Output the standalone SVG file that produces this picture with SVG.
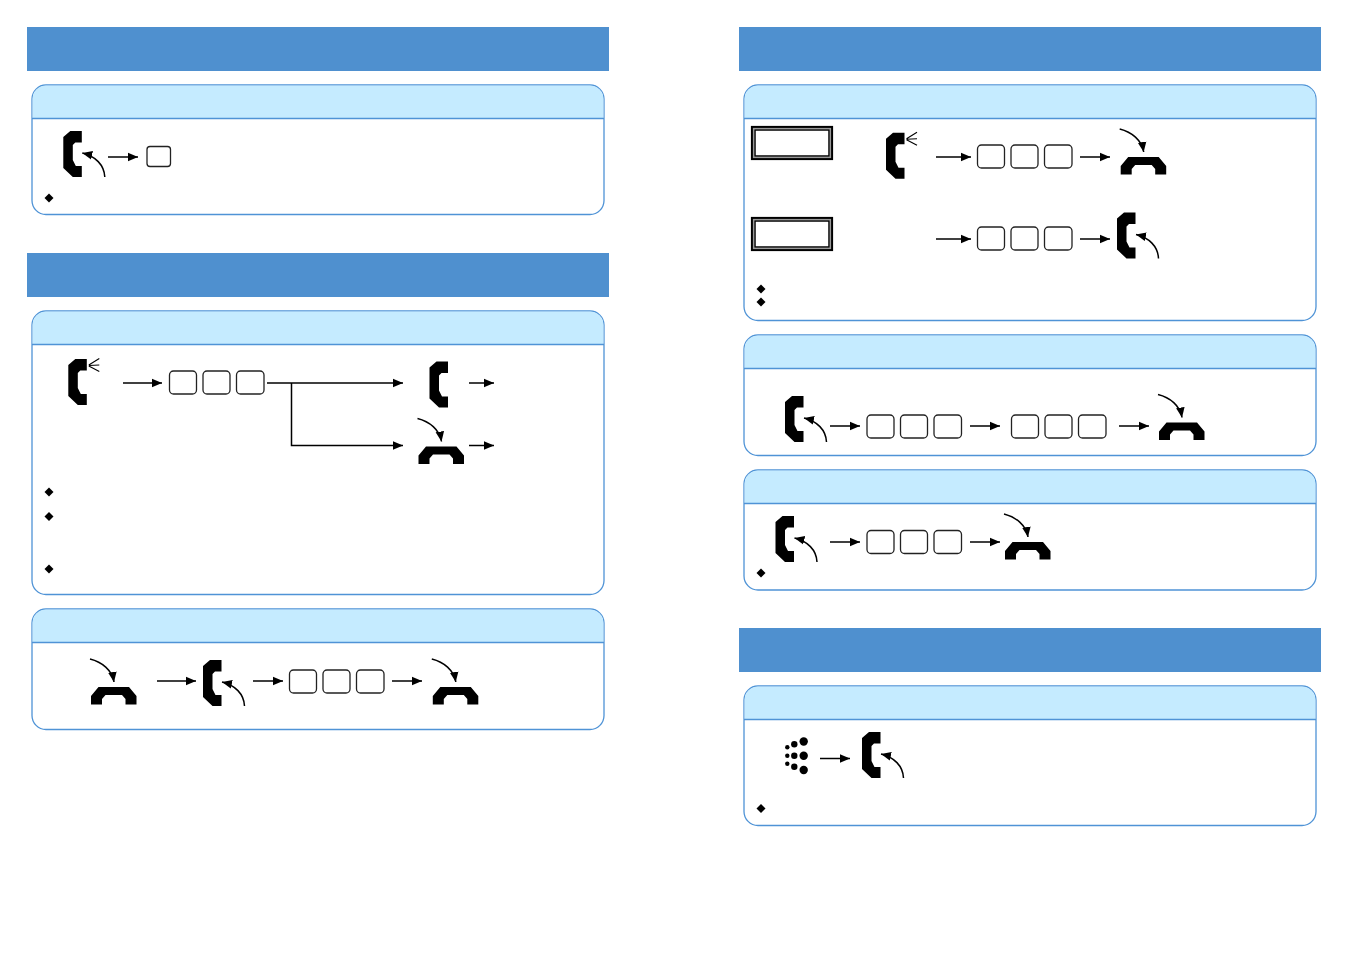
<svg xmlns="http://www.w3.org/2000/svg" width="1351" height="954" viewBox="0 0 1351 954">
<style>
.bar{fill:#4f90cf}
.panel{fill:#fff;stroke:#4f93d6;stroke-width:1.3}
.head{fill:#c5ebff}
.div{stroke:#4f93d6;stroke-width:1.3;fill:none}
.key{fill:#fff;stroke:#222;stroke-width:1.3}
.c{fill:none;stroke:#000;stroke-width:1.5;marker-end:url(#ah)}
.ring{stroke:#000;stroke-width:1.1;fill:none}
.fo{fill:#fff;stroke:#000;stroke-width:2.2}
.fm{fill:none;stroke:#999;stroke-width:1.2}
.fi{fill:none;stroke:#000;stroke-width:1.5}
</style>
<defs>
<marker id="ah" markerUnits="userSpaceOnUse" markerWidth="11" markerHeight="11" refX="10" refY="5" orient="auto"><path d="M0,.7L10,5L0,9.300Z" fill="#000"/></marker>
<path id="hs" d="M7,0H18.500V11.500H12L9.500,14V29L12.500,35H18.500V46H9.500L0,37V6Z" fill="#000"/>
<path id="hu" d="M7.500,0H38L45.500,9V17.500H34.500V12L31,8H14.500L11,12V17.500H0V9Z" fill="#000"/>
<g id="lift"><use href="#hs"/><path class="c" d="M41.500,46C41,34 32,25 19,22"/></g>
<g id="hang"><use href="#hu"/><path class="c" d="M-1,-28C11,-25 21,-17 23,-5"/></g>
<g id="ringing"><use href="#hs"/><path class="ring" d="M20.500,6L31,-.5M20.500,6.500L31,6M20.500,7L31,12.500"/></g>
<g id="k3"><rect class="key" x=".5" y=".5" width="27" height="23" rx="4"/><rect class="key" x="34" y=".5" width="27" height="23" rx="4"/><rect class="key" x="67.500" y=".5" width="27.500" height="23" rx="4"/></g>
<g id="frame"><rect class="fo" x="752" y="0" width="80" height="32"/><rect class="fm" x="753.500" y="1.500" width="77" height="29"/><rect class="fi" x="755" y="3" width="74" height="26"/></g>
<path id="dm" d="M0,-4.500L4.500,0L0,4.500L-4.500,0Z" fill="#000"/>
</defs>
<rect width="1351" height="954" fill="#fff"/>
<g id="bar-1"><rect class="bar" x="27" y="27" width="582" height="44"/></g>
<g id="bar-2"><rect class="bar" x="27" y="253" width="582" height="44"/></g>
<g id="bar-3"><rect class="bar" x="739" y="27" width="582" height="44"/></g>
<g id="bar-4"><rect class="bar" x="739" y="628" width="582" height="44"/></g>

<g id="panel-1"><rect class="panel" x="32" y="85" width="572" height="129.500" rx="14"/><path class="head" d="M46,85.600H590A13.400,13.400 0 0 1 603.400,99V118.500H32.600V99A13.400,13.400 0 0 1 46,85.600Z"/><path class="div" d="M32,118.500H604"/></g>
<g id="panel-2"><rect class="panel" x="32" y="311" width="572" height="283.500" rx="14"/><path class="head" d="M46,311.600H590A13.400,13.400 0 0 1 603.400,325V344.500H32.600V325A13.400,13.400 0 0 1 46,311.600Z"/><path class="div" d="M32,344.500H604"/></g>
<g id="panel-3"><rect class="panel" x="32" y="609" width="572" height="120.500" rx="14"/><path class="head" d="M46,609.600H590A13.400,13.400 0 0 1 603.400,623V642.500H32.600V623A13.400,13.400 0 0 1 46,609.600Z"/><path class="div" d="M32,642.500H604"/></g>
<g id="panel-4"><rect class="panel" x="744" y="85" width="572" height="235.500" rx="14"/><path class="head" d="M758,85.600H1302A13.400,13.400 0 0 1 1315.400,99V118.500H744.600V99A13.400,13.400 0 0 1 758,85.600Z"/><path class="div" d="M744,118.500H1316"/></g>
<g id="panel-5"><rect class="panel" x="744" y="335" width="572" height="120.500" rx="14"/><path class="head" d="M758,335.600H1302A13.400,13.400 0 0 1 1315.400,349V368.500H744.600V349A13.400,13.400 0 0 1 758,335.600Z"/><path class="div" d="M744,368.500H1316"/></g>
<g id="panel-6"><rect class="panel" x="744" y="470" width="572" height="120" rx="14"/><path class="head" d="M758,470.600H1302A13.400,13.400 0 0 1 1315.400,484V503.500H744.600V484A13.400,13.400 0 0 1 758,470.600Z"/><path class="div" d="M744,503.500H1316"/></g>
<g id="panel-7"><rect class="panel" x="744" y="686" width="572" height="139.500" rx="14"/><path class="head" d="M758,686.600H1302A13.400,13.400 0 0 1 1315.400,700V719.500H744.600V700A13.400,13.400 0 0 1 758,686.600Z"/><path class="div" d="M744,719.500H1316"/></g>

<g id="connectors">
<path class="c" d="M108,157H138"/>
<path class="c" d="M123,383H162"/>
<path class="c" d="M267,383H403"/>
<path class="c" d="M291.500,383V445.500H403"/>
<path class="c" d="M469,383H494"/>
<path class="c" d="M469,445.500H494"/>
<path class="c" d="M157,681H196"/>
<path class="c" d="M253,681H283"/>
<path class="c" d="M392,681H422"/>
<path class="c" d="M936,157H971"/>
<path class="c" d="M1080,157H1110"/>
<path class="c" d="M936,239H971"/>
<path class="c" d="M1080,239H1110"/>
<path class="c" d="M830,426H860"/>
<path class="c" d="M970,426H1000"/>
<path class="c" d="M1119,426H1149"/>
<path class="c" d="M830,542H860"/>
<path class="c" d="M970,542H1000"/>
<path class="c" d="M820,758.500H850"/>
</g>

<g id="p1-lift"><use href="#lift" x="63.300" y="131"/></g>
<g id="p1-key"><rect class="key" x="147" y="146.500" width="23.500" height="20" rx="3"/></g>
<g id="p1-b1"><use href="#dm" x="49" y="198"/></g>

<g id="p2-ring"><use href="#ringing" x="68.300" y="359"/></g>
<g id="p2-keys"><use href="#k3" x="169" y="370.500"/></g>
<g id="p2-handset"><use href="#hs" x="429.500" y="361.500"/></g>
<g id="p2-hang"><use href="#hang" x="418.500" y="446.500"/></g>
<g id="p2-b1"><use href="#dm" x="49" y="492"/></g>
<g id="p2-b2"><use href="#dm" x="49" y="516.500"/></g>
<g id="p2-b3"><use href="#dm" x="49" y="569"/></g>

<g id="p3-hang1"><use href="#hang" x="91" y="687"/></g>
<g id="p3-lift"><use href="#lift" x="203" y="660"/></g>
<g id="p3-keys"><use href="#k3" x="289" y="669.500"/></g>
<g id="p3-hang2"><use href="#hang" x="432.800" y="687"/></g>

<g id="p4-frame1"><use href="#frame" y="127"/></g>
<g id="p4-ring"><use href="#ringing" x="886" y="132.700"/></g>
<g id="p4-keys1"><use href="#k3" x="977" y="144.500"/></g>
<g id="p4-hang"><use href="#hang" x="1120.700" y="157"/></g>
<g id="p4-frame2"><use href="#frame" y="218"/></g>
<g id="p4-keys2"><use href="#k3" x="977" y="226.500"/></g>
<g id="p4-lift"><use href="#lift" x="1117" y="212.500"/></g>
<g id="p4-b1"><use href="#dm" x="761" y="289"/></g>
<g id="p4-b2"><use href="#dm" x="761" y="302"/></g>

<g id="p5-lift"><use href="#lift" x="785" y="396"/></g>
<g id="p5-keys1"><use href="#k3" x="866.500" y="414.500"/></g>
<g id="p5-keys2"><use href="#k3" x="1011" y="414.500"/></g>
<g id="p5-hang"><use href="#hang" x="1159" y="422.500"/></g>

<g id="p6-lift"><use href="#lift" x="775.500" y="516"/></g>
<g id="p6-keys"><use href="#k3" x="866.500" y="530"/></g>
<g id="p6-hang"><use href="#hang" x="1005" y="542"/></g>
<g id="p6-b1"><use href="#dm" x="761" y="573"/></g>

<g id="p7-dots" fill="#000"><circle cx="803.700" cy="741.500" r="4.200"/><circle cx="803.700" cy="755.800" r="4.200"/><circle cx="803.700" cy="770" r="4.200"/><circle cx="794.300" cy="744.300" r="3.200"/><circle cx="794.300" cy="755.800" r="3.200"/><circle cx="794.300" cy="766.700" r="3.200"/><circle cx="787.300" cy="747.300" r="2.200"/><circle cx="787.300" cy="755.800" r="2.200"/><circle cx="787.300" cy="763.700" r="2.200"/></g>
<g id="p7-lift"><use href="#lift" x="862" y="732"/></g>
<g id="p7-b1"><use href="#dm" x="761" y="808.500"/></g>
</svg>
